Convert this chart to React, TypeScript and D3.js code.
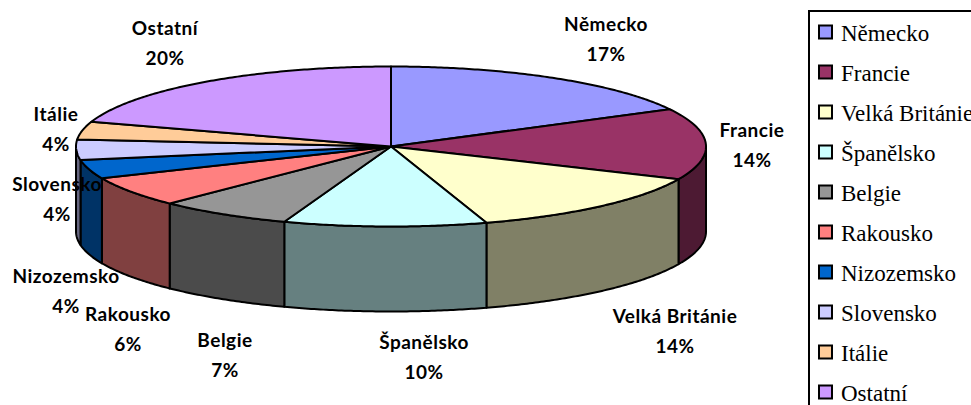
import React from "react";
import * as d3 from "d3";

const categories = ["Německo","Francie","Velká Británie","Španělsko","Belgie","Rakousko","Nizozemsko","Slovensko","Itálie","Ostatní"];
const shares = [17.3,14.4,13.4,10.4,6.9,6.1,3.8,4.1,3.6,20];
const percentLabels = ["17%","14%","14%","10%","7%","6%","4%","4%","4%","20%"];
const topColors = ["#9999ff","#993366","#ffffcc","#ccffff","#969696","#ff8080","#0066cc","#ccccff","#ffcc99","#cc99ff"];
const sideColors = ["#4d4d80","#4d1a33","#808066","#668080","#4b4b4b","#804040","#003366","#666680","#806650","#664d80"];
const labelX = [606,752,675,424,225,128,66,57,56,165];
const labelBase = [31,137,323,349,347,321,283,191,121,35];
const legendY = [32,72,112,152,192,232,272,312,352,392];

const cx = 391, cy = 146.5, rx = 315, ry = 80, depth = 85;
const W = 971, H = 405;

const pie = d3.pie<number>().sort(null).value(d => d);
const arcs = pie(shares);
const sx = d3.scaleLinear().domain([-1,1]).range([cx-rx,cx+rx]);
const sy = d3.scaleLinear().domain([-1,1]).range([cy-ry,cy+ry]);
const pt = (a:number,dy=0):[number,number] => [sx(Math.sin(a)), sy(-Math.cos(a))+dy];
const line = d3.line();
const samples = (a0:number,a1:number,dy=0) => {
  const n = Math.max(2,Math.ceil((a1-a0)/0.01));
  return d3.range(n+1).map(i => pt(a0+(a1-a0)*i/n,dy));
};
const topPath = (a0:number,a1:number) => line([[cx,cy],...samples(a0,a1)])+"Z";
const sidePath = (a0:number,a1:number) => line([...samples(a0,a1),...samples(a0,a1,depth).reverse()])+"Z";

export default function App(){
  const lo = Math.PI/2, hi = 3*Math.PI/2;
  return (
    <svg width={W} height={H} viewBox={`0 0 ${W} ${H}`} style={{position:"absolute",left:0,top:0,display:"block",background:"#fff"}}>
      <g stroke="#000" strokeWidth={2} strokeLinejoin="round">
        {arcs.map((d,i)=>{
          const a0=Math.max(d.startAngle,lo),a1=Math.min(d.endAngle,hi);
          return a1>a0 ? <path key={i} d={sidePath(a0,a1)} fill={sideColors[i]}/> : null;
        })}
        {arcs.map((d,i)=><path key={i} d={topPath(d.startAngle,d.endAngle)} fill={topColors[i]}/>)}
      </g>
      <g fontFamily="Lato,sans-serif" fontWeight={700} fontSize={19} letterSpacing={0.5} textAnchor="middle" fill="#000">
        {categories.map((c,i)=>(
          <g key={c}>
            <text x={labelX[i]} y={labelBase[i]}>{c}</text>
            <text x={labelX[i]} y={labelBase[i]+30}>{percentLabels[i]}</text>
          </g>
        ))}
      </g>
      <rect x={809} y={11} width={200} height={420} fill="#fff" stroke="#000" strokeWidth={2}/>
      {categories.map((c,i)=>(
        <g key={c}>
          <rect x={819} y={legendY[i]-6.5} width={13} height={13} fill={topColors[i]} stroke="#000" strokeWidth={2}/>
          <text x={841} y={legendY[i]+9} fontFamily="'Liberation Serif',serif" fontSize={23} fill="#000">{c}</text>
        </g>
      ))}
    </svg>
  );
}
